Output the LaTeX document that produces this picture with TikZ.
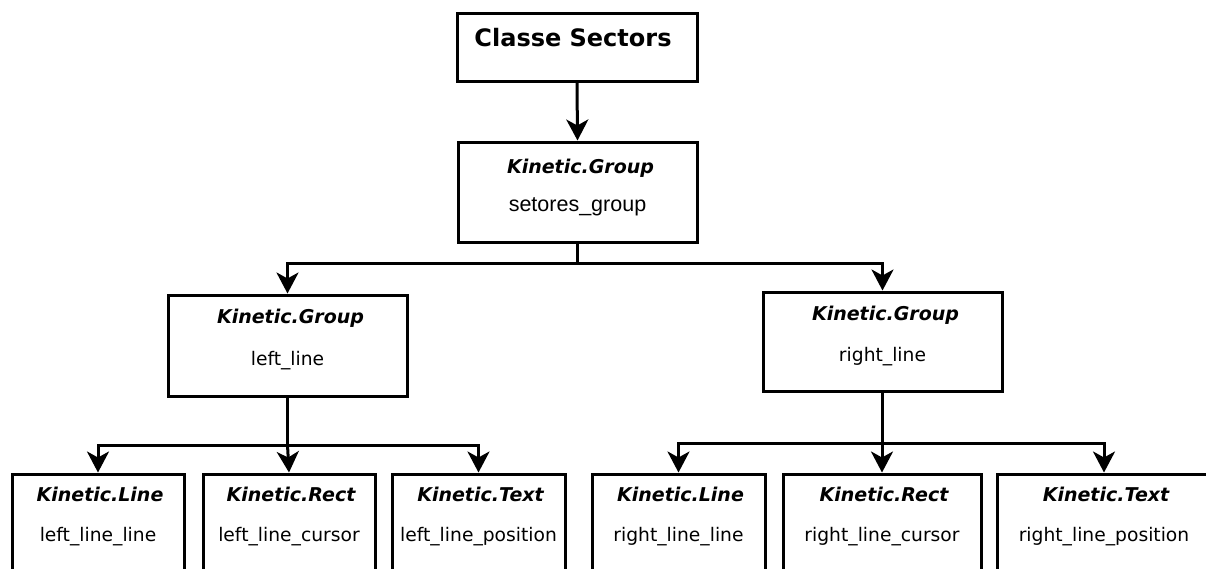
\documentclass[tikz,border=0pt]{standalone}
\usepackage{fontspec}
\setmainfont{DejaVu Sans}
\newfontfamily\arialfam{Liberation Sans}
\usetikzlibrary{arrows.meta,calc}

\tikzset{
  box/.style={draw=black, line width=3pt, fill=white, rectangle, inner sep=0pt},
  conn/.style={draw=black, line width=3pt},
  arr/.style={conn, -{Stealth[length=21pt,width=22pt,inset=6pt]}},
  cls/.style={anchor=base, inner sep=0pt, font=\fontsize{19}{22}\selectfont\bfseries\itshape},
  inst/.style={anchor=base, inner sep=0pt, font=\fontsize{18.7}{22}\selectfont},
  instb/.style={anchor=base, inner sep=0pt, font=\fontsize{21.5}{25}\selectfont\arialfam},
  ttl/.style={anchor=base, inner sep=0pt, font=\fontsize{24}{28}\selectfont\bfseries}
}

\begin{document}
\begin{tikzpicture}[x=1pt,y=-1pt]
\clip (0,0) rectangle (1206,568);
\fill[white] (0,0) rectangle (1206,568);

% class box
\node[box, minimum width=240pt, minimum height=68pt] (top) at (577,47) {};
\node[ttl] (topT) at ($(top.north)+(-4,35)$) {Classe Sectors};

% main group
\node[box, minimum width=239pt, minimum height=100pt] (g0) at (577.5,192) {};
\node[cls]  (g0a) at ($(g0.north)+(3,33)$) {Kinetic.Group};
\node[instb] (g0b) at ($(g0.north)+(0,71)$) {setores\_group};

% left and right groups
\node[box, minimum width=239pt, minimum height=101pt] (gL) at (287.5,345.5) {};
\node[cls]  (gLa) at ($(gL.north)+(3,30)$) {Kinetic.Group};
\node[inst] (gLb) at ($(gL.north)+(0,72)$) {left\_line};

\node[box, minimum width=239pt, minimum height=99pt] (gR) at (882.5,341.5) {};
\node[cls]  (gRa) at ($(gR.north)+(3,30)$) {Kinetic.Group};
\node[inst] (gRb) at ($(gR.north)+(0,71)$) {right\_line};

% leaf shapes (running past the lower edge)
\node[box, minimum width=172pt, minimum height=140pt] (bL1) at (98,544) {};
\node[box, minimum width=172pt, minimum height=140pt] (bL2) at (289,544) {};
\node[box, minimum width=173pt, minimum height=140pt] (bL3) at (478.5,544) {};
\node[box, minimum width=173pt, minimum height=140pt] (bR1) at (678.5,544) {};
\node[box, minimum width=198pt, minimum height=140pt] (bR2) at (882,544) {};
\node[box, minimum width=214pt, minimum height=140pt] (bR3) at (1104,544) {};

\node[cls]  (bL1a) at ($(bL1.north)+(2,29)$) {Kinetic.Line};
\node[inst] (bL1b) at ($(bL1.north)+(0,69)$) {left\_line\_line};
\node[cls]  (bL2a) at ($(bL2.north)+(2,29)$) {Kinetic.Rect};
\node[inst] (bL2b) at ($(bL2.north)+(0,69)$) {left\_line\_cursor};
\node[cls]  (bL3a) at ($(bL3.north)+(2,29)$) {Kinetic.Text};
\node[inst] (bL3b) at ($(bL3.north)+(0,69)$) {left\_line\_position};

\node[cls]  (bR1a) at ($(bR1.north)+(2,29)$) {Kinetic.Line};
\node[inst] (bR1b) at ($(bR1.north)+(0,69)$) {right\_line\_line};
\node[cls]  (bR2a) at ($(bR2.north)+(2,29)$) {Kinetic.Rect};
\node[inst] (bR2b) at ($(bR2.north)+(0,69)$) {right\_line\_cursor};
\node[cls]  (bR3a) at ($(bR3.north)+(2,29)$) {Kinetic.Text};
\node[inst] (bR3b) at ($(bR3.north)+(0,69)$) {right\_line\_position};

% junction points
\coordinate (j0) at (577.5,263);
\coordinate (jL) at (287.5,445);
\coordinate (jR) at (882.5,443);

% connectors
\draw[arr] (top.south) -- (g0.north);
\draw[conn] (g0.south) -- (j0);
\draw[arr] (j0) -| (gL.north);
\draw[arr] (j0) -| (gR.north);

\draw[conn] (gL.south) -- (jL);
\draw[arr] (jL) -| (bL1.north);
\draw[arr] (jL) -- (bL2.north);
\draw[arr] (jL) -| (bL3.north);

\draw[conn] (gR.south) -- (jR);
\draw[arr] (jR) -| (bR1.north);
\draw[arr] (jR) -| (bR2.north);
\draw[arr] (jR) -| (bR3.north);
\end{tikzpicture}
\end{document}
